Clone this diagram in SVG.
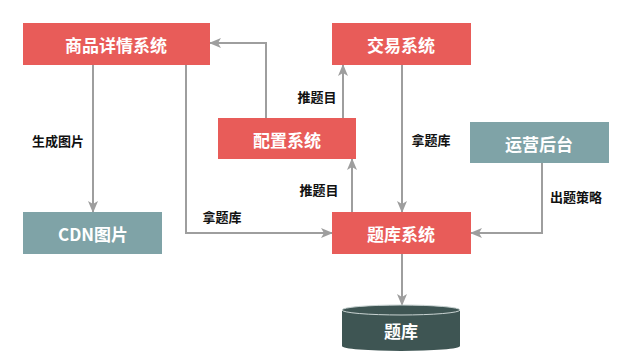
<svg xmlns="http://www.w3.org/2000/svg" width="640" height="357" viewBox="0 0 640 357">
<style>
.red{fill:#e85c59}
.teal{fill:#7fa3a7}
.nt{fill:#ffffff;font-family:"Noto Sans CJK SC","Noto Sans",sans-serif;font-size:17px;font-weight:bold;text-anchor:middle;dominant-baseline:central}
.lb{fill:#111111;font-family:"Noto Sans CJK SC","Noto Sans",sans-serif;font-size:13px;font-weight:bold;text-anchor:middle;dominant-baseline:central}
.ln{fill:none;stroke:#9e9e9e;stroke-width:2}
</style>
<defs>
<marker id="ar" viewBox="0 0 12 10" refX="11" refY="5" markerWidth="12" markerHeight="10" markerUnits="userSpaceOnUse" orient="auto">
<path d="M0,0 L12,5 L0,10 L3,5 Z" fill="#9e9e9e"/>
</marker>
</defs>
<rect width="640" height="357" fill="#ffffff"/>
<g id="connectors">
<path class="ln" d="M93,65 V212" marker-end="url(#ar)"/>
<path class="ln" d="M186,65 V233 H332" marker-end="url(#ar)"/>
<path class="ln" d="M266,118 V43 H210" marker-end="url(#ar)"/>
<path class="ln" d="M343,118 V65" marker-end="url(#ar)"/>
<path class="ln" d="M352,212 V159" marker-end="url(#ar)"/>
<path class="ln" d="M402,65 V212" marker-end="url(#ar)"/>
<path class="ln" d="M542,163 V233 H471" marker-end="url(#ar)"/>
<path class="ln" d="M402,254 V305" marker-end="url(#ar)"/>
<text class="lb" x="58" y="140">生成图片</text>
<text class="lb" x="222" y="216">拿题库</text>
<text class="lb" x="317" y="96">推题目</text>
<text class="lb" x="319" y="189">推题目</text>
<text class="lb" x="431" y="139">拿题库</text>
<text class="lb" x="576" y="196">出题策略</text>
</g>
<g id="n-goods"><rect class="red" x="23" y="23" width="187" height="42"/><text class="nt" x="116" y="44">商品详情系统</text></g>
<g id="n-trade"><rect class="red" x="332" y="23" width="139" height="42"/><text class="nt" x="401" y="44">交易系统</text></g>
<g id="n-config"><rect class="red" x="218" y="118" width="138" height="41"/><text class="nt" x="287" y="139">配置系统</text></g>
<g id="n-ops"><rect class="teal" x="470" y="122" width="139" height="41"/><text class="nt" x="539" y="143">运营后台</text></g>
<g id="n-cdn"><rect class="teal" x="23" y="212" width="139" height="42"/><text class="nt" x="93" y="233">CDN图片</text></g>
<g id="n-qsys"><rect class="red" x="332" y="212" width="139" height="42"/><text class="nt" x="401" y="233">题库系统</text></g>
<g id="n-db">
<path d="M342,310 A59,5 0 0 1 460,310 V346 A59,5 0 0 1 342,346 Z" fill="#3e5553"/>
<ellipse cx="401" cy="310" rx="59" ry="5" fill="none" stroke="#c9d3d2" stroke-width="1"/>
<text class="nt" x="401" y="330">题库</text>
</g>
</svg>
